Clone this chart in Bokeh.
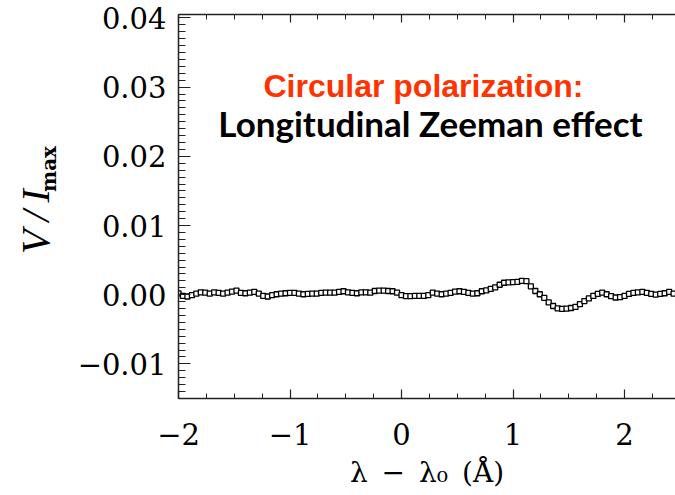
from bokeh.plotting import figure
from bokeh.models import (Range1d, LinearAxis, FixedTicker, CustomJSTickFormatter, Label)
from bokeh.embed import file_html
from bokeh.resources import INLINE
import numpy as np

# ---- data ----
wavelength = [
    -2.00, -1.96, -1.92, -1.88, -1.84, -1.80, -1.76, -1.72, -1.68, -1.64,
    -1.60, -1.56, -1.52, -1.48, -1.44, -1.40, -1.36, -1.32, -1.28, -1.24,
    -1.20, -1.16, -1.12, -1.08, -1.04, -1.00, -0.96, -0.92, -0.88, -0.84,
    -0.80, -0.76, -0.72, -0.68, -0.64, -0.60, -0.56, -0.52, -0.48, -0.44,
    -0.40, -0.36, -0.32, -0.28, -0.24, -0.20, -0.16, -0.12, -0.08, -0.04,
    0.00, 0.04, 0.08, 0.12, 0.16, 0.20, 0.24, 0.28, 0.32, 0.36,
    0.40, 0.44, 0.48, 0.52, 0.56, 0.60, 0.64, 0.68, 0.72, 0.76,
    0.80, 0.84, 0.88, 0.92, 0.96, 1.00, 1.04, 1.08, 1.12, 1.16,
    1.20, 1.24, 1.28, 1.32, 1.36, 1.40, 1.44, 1.48, 1.52, 1.56,
    1.60, 1.64, 1.68, 1.72, 1.76, 1.80, 1.84, 1.88, 1.92, 1.96,
    2.00, 2.04, 2.08, 2.12, 2.16, 2.20, 2.24, 2.28, 2.32, 2.36,
    2.40, 2.44, 2.48,
]
stokes_v = [
    0.00020, -0.00017, -0.00026, -0.00007, 0.00017, 0.00035, 0.00030, 0.00017, 0.00035, 0.00026,
    0.00017, 0.00030, 0.00045, 0.00059, 0.00026, 0.00021, 0.00030, 0.00040, 0.00017, -0.00017,
    -0.00026, -0.00007, 0.00007, 0.00017, 0.00021, 0.00026, 0.00026, 0.00017, 0.00007, 0.00012,
    0.00017, 0.00017, 0.00026, 0.00030, 0.00030, 0.00030, 0.00040, 0.00050, 0.00035, 0.00026,
    0.00021, 0.00035, 0.00035, 0.00030, 0.00054, 0.00059, 0.00059, 0.00054, 0.00050, 0.00030,
    -0.00007, -0.00021, -0.00021, -0.00017, -0.00017, -0.00017, -0.00007, 0.00030, 0.00017, 0.00007,
    0.00017, 0.00026, 0.00045, 0.00050, 0.00040, 0.00026, 0.00017, 0.00021, 0.00050, 0.00064,
    0.00083, 0.00106, 0.00144, 0.00173, 0.00177, 0.00182, 0.00187, 0.00201, 0.00196, 0.00121,
    0.00054, 0.00007, -0.00045, -0.00111, -0.00163, -0.00196, -0.00206, -0.00201, -0.00192, -0.00177,
    -0.00135, -0.00092, -0.00054, -0.00017, 0.00012, 0.00030, 0.00007, -0.00021, -0.00040, -0.00035,
    -0.00017, 0.00012, 0.00026, 0.00035, 0.00040, 0.00026, 0.00012, 0.00002, 0.00012, 0.00021,
    0.00040, 0.00017, 0.00010,
]
x_ticks = [-2, -1, 0, 1, 2]
x_tick_labels = ["\u22122", "\u22121", "0", "1", "2"]
y_ticks = [-0.01, 0.0, 0.01, 0.02, 0.03, 0.04]
y_tick_labels = ["\u22120.01", "0.00", "0.01", "0.02", "0.03", "0.04"]

title_red = "Circular polarization:"
title_black = "Longitudinal Zeeman effect"
x_label = "\u03bb\u2002\u2212\u2002\u03bb\u2080\u2002(\u00c5)"
y_label_main = "V\u2009/\u2009I"
y_label_sub = "max"

# ---- figure ----
p = figure(width=675, height=495, output_backend="svg", toolbar_location=None,
           x_range=Range1d(-2.0, 2.457), y_range=Range1d(-0.015, 0.0405),
           x_axis_location=None, y_axis_location=None,
           min_border_left=178, min_border_right=0, min_border_top=14,
           min_border_bottom=97)
p.outline_line_color = None
p.xgrid.visible = False
p.ygrid.visible = False
p.background_fill_color = "white"
p.border_fill_color = "white"

fmt_code = """
let best = 0, bd = 1e9;
for (let i = 0; i < vals.length; i++) {
  const d = Math.abs(vals[i] - tick);
  if (d < bd) { bd = d; best = i; }
}
return labs[best];
"""
x_fmt = CustomJSTickFormatter(args=dict(vals=x_ticks, labs=x_tick_labels), code=fmt_code)
y_fmt = CustomJSTickFormatter(args=dict(vals=y_ticks, labs=y_tick_labels), code=fmt_code)

x_minor = [round(v, 3) for v in np.arange(-2.0, 2.5, 0.25)]
y_minor = [round(v, 4) for v in np.arange(-0.015, 0.0405, 0.001)]
x_ticker = FixedTicker(ticks=x_ticks, minor_ticks=x_minor)
y_ticker = FixedTicker(ticks=y_ticks, minor_ticks=y_minor)

tick_font = "DejaVu Serif"

def style_axis(ax, major_in, minor_in):
    ax.axis_line_color = "#222222"
    ax.axis_line_width = 1.5
    ax.major_tick_line_color = "#222222"
    ax.minor_tick_line_color = "#222222"
    ax.major_tick_line_width = 1.2
    ax.minor_tick_line_width = 1.0
    ax.major_tick_in = major_in
    ax.major_tick_out = 0
    ax.minor_tick_in = minor_in
    ax.minor_tick_out = 0
    ax.major_label_text_font = tick_font
    ax.major_label_text_color = "black"

bottom = LinearAxis(ticker=x_ticker, formatter=x_fmt)
style_axis(bottom, 9, 5)
bottom.major_label_text_font_size = "29px"
bottom.major_label_standoff = 24
bottom.axis_label = x_label
bottom.axis_label_text_font = tick_font
bottom.axis_label_text_font_style = "normal"
bottom.axis_label_text_font_size = "28px"
bottom.axis_label_text_color = "black"
bottom.axis_label_standoff = 8
p.add_layout(bottom, "below")

top = LinearAxis(ticker=x_ticker, formatter=x_fmt)
style_axis(top, 8, 5)
top.major_label_text_font_size = "0px"
top.major_label_standoff = 0
p.add_layout(top, "above")

# inner left axis: ticks, tick labels, subscript "max" as its label
left = LinearAxis(ticker=y_ticker, formatter=y_fmt)
style_axis(left, 12, 7)
left.major_label_text_font_size = "29px"
left.major_label_standoff = 12
left.axis_label = "\u2003\u2003\u2003\u2002\u2005" + y_label_sub
left.axis_label_text_font = tick_font
left.axis_label_text_font_style = "bold"
left.axis_label_text_font_size = "20px"
left.axis_label_text_color = "black"
left.axis_label_standoff = 14
p.add_layout(left, "left")

# outer left axis: only carries the italic "V/I"
left2 = LinearAxis(ticker=FixedTicker(ticks=[]))
left2.axis_line_color = None
left2.major_tick_line_color = None
left2.minor_tick_line_color = None
left2.major_label_text_font_size = "0px"
left2.major_label_standoff = 0
left2.axis_label = y_label_main + "\u2002\u2005"
left2.axis_label_text_font = "Liberation Serif"
left2.axis_label_text_font_style = "italic"
left2.axis_label_text_font_size = "40px"
left2.axis_label_text_color = "black"
left2.axis_label_standoff = -24
p.add_layout(left2, "left")

# ---- data ----
p.line(wavelength, stokes_v, line_color="black", line_width=2.0)
p.scatter(wavelength, stokes_v, marker="square", size=5, fill_color="white",
          line_color="black", line_width=1.3)

# ---- annotation texts ----
p.add_layout(Label(x=245, y=313, x_units="screen", y_units="screen",
                   text=title_red, text_font="Liberation Sans", text_font_style="bold",
                   text_font_size="32px", text_color="#ff3300",
                   text_align="center", text_baseline="alphabetic"))
p.add_layout(Label(x=252, y=276, x_units="screen", y_units="screen",
                   text=title_black, text_font="Lato", text_font_style="bold",
                   text_font_size="35px", text_color="black",
                   text_align="center", text_baseline="alphabetic"))

open("out.html", "w").write(file_html(p, INLINE))
